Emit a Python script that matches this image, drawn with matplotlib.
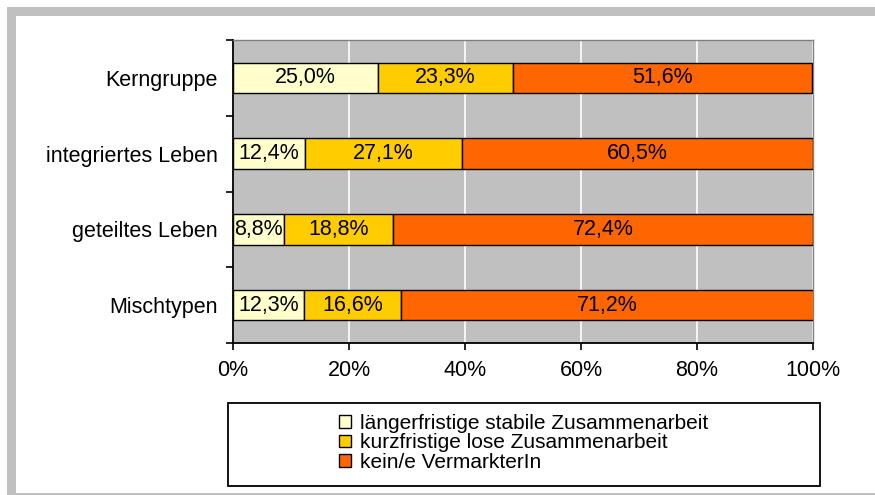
import matplotlib.pyplot as plt
from matplotlib.patches import Rectangle
import numpy as np

plt.rcParams["font.family"] = ["Liberation Sans", "DejaVu Sans"]

# Shares per group (percent), top to bottom
groups = ["Kerngruppe", "integriertes Leben", "geteiltes Leben", "Mischtypen"]
stable = [25.0, 12.4, 8.8, 12.3]
loose = [23.3, 27.1, 18.8, 16.6]
none = [51.6, 60.5, 72.4, 71.2]
series_names = ["längerfristige stabile Zusammenarbeit",
                "kurzfristige lose Zusammenarbeit",
                "kein/e VermarkterIn"]
colors = ["#FFFFCC", "#FFCC00", "#FF6600"]

fs = 15.5

fig = plt.figure(figsize=(8.75, 4.95), dpi=100)
W, H = 875, 495

# grey frame around the chart
grey = "#C0C0C0"
fig.patches.append(Rectangle((7 / W, 1 - 16 / H), 868 / W, 9 / H,
                             transform=fig.transFigure, color=grey, lw=0))
fig.patches.append(Rectangle((7 / W, 1 - 494 / H), 9 / W, 487 / H,
                             transform=fig.transFigure, color=grey, lw=0))
fig.patches.append(Rectangle((7 / W, 1 - 495 / H), 868 / W, 2 / H,
                             transform=fig.transFigure, color=grey, lw=0))

ax = fig.add_axes([233 / W, 1 - 343 / H, 580 / W, 303 / H])
ax.set_facecolor(grey)

y = np.arange(len(groups))
left = np.zeros(len(groups))
for vals, col in zip([stable, loose, none], colors):
    vals = np.array(vals)
    ax.barh(y, vals, left=left, height=0.4, color=col, edgecolor="black",
            linewidth=1, zorder=3)
    for yi, l, v in zip(y, left, vals):
        ax.text(l + v / 2, yi, f"{v:.1f}%".replace(".", ","), ha="center",
                va="center", fontsize=fs, zorder=4)
    left += vals

ax.set_xlim(0, 100)
ax.set_ylim(len(groups) - 0.5, -0.5)
ax.set_xticks(np.arange(0, 101, 20))
ax.set_xticklabels([f"{t}%" for t in range(0, 101, 20)], fontsize=fs)
ax.xaxis.grid(True, color="white", linewidth=1.2, zorder=1)
ax.set_axisbelow(True)

ax.set_yticks(y)
ax.set_yticklabels(groups, fontsize=fs)
ax.set_yticks(np.arange(-0.5, len(groups)), minor=True)
ax.tick_params(axis="y", which="major", length=0, pad=11)
ax.tick_params(axis="y", which="minor", length=5, width=1.2, direction="out")
ax.tick_params(axis="x", length=5, width=1.2, direction="out", pad=7)

for side in ["left", "bottom"]:
    ax.spines[side].set_linewidth(1.3)
for side in ["top", "right"]:
    ax.spines[side].set_color("#808080")
    ax.spines[side].set_linewidth(1)

# legend box with centred entries
fig.patches.append(Rectangle((228 / W, 1 - 486 / H), 592 / W, 83 / H,
                             transform=fig.transFigure, fill=False,
                             edgecolor="black", lw=1.3))
handles = [Rectangle((0, 0), 1, 1, facecolor=c, edgecolor="black", lw=1)
           for c in colors]
fig.legend(handles, series_names, loc="center", frameon=False,
           bbox_to_anchor=(524 / W, 1 - 443 / H), fontsize=fs - 0.5,
           handlelength=0.55, handleheight=0.55, handletextpad=0.45,
           labelspacing=0.02, borderpad=0)

fig.savefig("out.png", dpi=100)
